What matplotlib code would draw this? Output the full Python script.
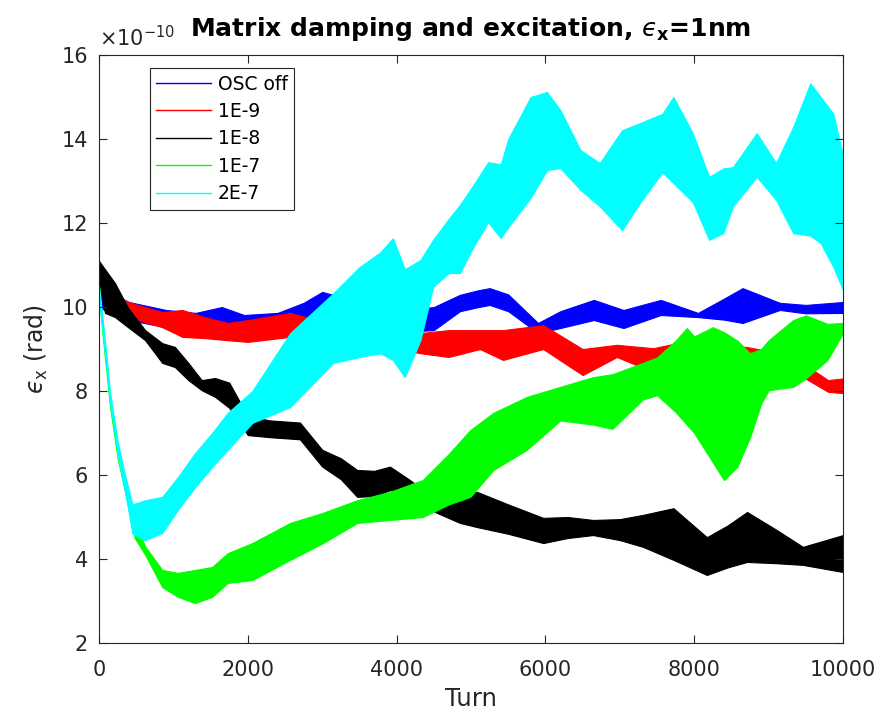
import numpy as np
import matplotlib
matplotlib.use("Agg")
import matplotlib.pyplot as plt

# ---- data (band envelopes, units of 1e-10 rad) ----
labels = ["OSC off", "1E-9", "1E-8", "1E-7", "2E-7"]
colors = ["#0000ff", "#ff0000", "#000000", "#00ff00", "#00ffff"]

t_off = [0, 100, 400, 900, 1300, 1650, 1950, 2400, 2750, 3000, 3250, 3600, 4000, 4500,
         4850, 5100, 5250, 5500, 5900, 6200, 6650, 7050, 7550, 8050, 8400, 8650, 9150, 9500, 10000]
up_off = [10.6, 10.4, 10.12, 9.93, 9.86, 10.0, 9.81, 9.86, 10.1, 10.36, 10.24, 10.1, 9.9, 10.0,
          10.29, 10.4, 10.45, 10.3, 9.62, 9.9, 10.17, 9.93, 10.17, 9.86, 10.2, 10.45, 10.1, 10.05, 10.12]
lo_off = [10.0, 9.9, 9.69, 9.52, 9.55, 9.62, 9.62, 9.69, 9.65, 9.76, 9.8, 9.6, 9.4, 9.45,
          9.9, 10.0, 10.05, 9.9, 9.38, 9.5, 9.69, 9.5, 9.81, 9.76, 9.7, 9.62, 9.93, 9.85, 9.86]

t_e9 = [0, 170, 310, 520, 850, 1120, 1420, 1730, 2000, 2570, 2930, 3300, 3700, 4000, 4320,
        4700, 5120, 5430, 5970, 6500, 6960, 7450, 7850, 8250, 8700, 9300, 9800, 10000]
up_e9 = [10.6, 10.57, 10.17, 10.05, 9.88, 9.93, 9.76, 9.62, 9.69, 9.86, 9.69, 9.6, 9.5, 9.4, 9.38,
         9.45, 9.45, 9.45, 9.57, 9.0, 9.1, 9.02, 9.17, 9.1, 9.05, 8.85, 8.26, 8.3]
lo_e9 = [10.3, 10.2, 9.86, 9.69, 9.52, 9.29, 9.26, 9.21, 9.17, 9.29, 9.4, 9.3, 9.1, 9.0, 8.9,
         8.81, 9.0, 8.74, 9.0, 8.38, 8.81, 8.45, 8.67, 8.7, 8.57, 8.5, 7.98, 7.95]

t_e8 = [0, 80, 215, 390, 620, 850, 1020, 1200, 1380, 1560, 1750, 2000, 2300, 2700, 3000, 3250,
        3470, 3700, 3910, 4180, 4540, 4850, 5080, 5500, 5970, 6300, 6640, 7000, 7310, 7720,
        8170, 8450, 8710, 9100, 9460, 10000]
up_e8 = [11.1, 10.9, 10.57, 9.98, 9.45, 9.14, 9.05, 8.67, 8.26, 8.31, 8.2, 7.4, 7.3, 7.25, 6.6, 6.4,
         6.12, 6.1, 6.2, 5.88, 5.4, 5.57, 5.6, 5.3, 4.98, 5.0, 4.93, 4.95, 5.05, 5.21,
         4.52, 4.8, 5.12, 4.7, 4.29, 4.57]
lo_e8 = [10.6, 9.86, 9.76, 9.52, 9.21, 8.67, 8.57, 8.26, 8.02, 7.86, 7.6, 6.95, 6.9, 6.85, 6.2, 5.9,
         5.48, 5.5, 5.64, 5.48, 5.1, 4.86, 4.76, 4.6, 4.38, 4.5, 4.57, 4.45, 4.29, 3.98,
         3.62, 3.8, 3.93, 3.9, 3.86, 3.69]

t_e7 = [0, 50, 150, 250, 350, 480, 620, 850, 1060, 1290, 1520, 1730, 2060, 2570, 3010, 3470,
        3910, 4350, 4700, 4990, 5300, 5750, 6200, 6640, 6900, 7310, 7500, 7750, 7900, 8000,
        8250, 8400, 8580, 8750, 8900, 9000, 9330, 9500, 9790, 10000]
up_e7 = [10.5, 9.6, 7.85, 6.7, 5.85, 4.9, 4.3, 3.74, 3.67, 3.74, 3.81, 4.14, 4.38, 4.86, 5.1, 5.4,
         5.6, 5.88, 6.5, 7.07, 7.48, 7.86, 8.1, 8.33, 8.4, 8.67, 8.8, 9.2, 9.5, 9.3,
         9.52, 9.4, 9.2, 8.9, 9.0, 9.21, 9.69, 9.8, 9.6, 9.62]
lo_e7 = [10.3, 9.3, 7.6, 6.4, 5.6, 4.5, 4.1, 3.33, 3.1, 2.95, 3.1, 3.43, 3.5, 3.98, 4.38, 4.86,
         4.93, 5.0, 5.3, 5.48, 6.12, 6.6, 7.3, 7.2, 7.1, 7.8, 7.9, 7.5, 7.2, 7.0,
         6.3, 5.88, 6.2, 6.9, 7.7, 8.02, 8.1, 8.3, 8.74, 9.38]

t_2e7 = [0, 50, 150, 250, 350, 450, 620, 850, 1060, 1290, 1520, 1730, 2060, 2570, 3150, 3500,
         3780, 3950, 4110, 4320, 4490, 4700, 4850, 5030, 5230, 5400, 5500, 5800, 6020, 6200,
         6470, 6730, 7030, 7270, 7570, 7720, 7980, 8200, 8390, 8520, 8840, 9100, 9330, 9560,
         9700, 9870, 10000]
up_2e7 = [10.5, 9.7, 7.95, 6.8, 6.0, 5.3, 5.4, 5.48, 5.95, 6.52, 7.0, 7.48, 8.0, 9.38, 10.33, 10.95,
          11.3, 11.64, 10.9, 11.12, 11.6, 12.1, 12.43, 12.9, 13.45, 13.4, 14.0, 15.0, 15.12, 14.69,
          13.74, 13.43, 14.21, 14.38, 14.6, 15.0, 14.14, 13.1, 13.3, 13.33, 14.14, 13.43, 14.29, 15.33,
          15.0, 14.6, 13.6]
lo_2e7 = [10.2, 9.4, 7.7, 6.5, 5.6, 4.6, 4.45, 4.62, 5.17, 5.71, 6.19, 6.6, 7.24, 7.62, 8.67, 8.81,
          8.9, 8.74, 8.33, 9.21, 10.48, 10.81, 10.81, 11.43, 12.02, 11.64, 11.9, 12.6, 13.26, 13.31,
          12.79, 12.4, 11.83, 12.48, 13.21, 12.95, 12.5, 11.6, 11.76, 12.4, 13.1, 12.55, 11.76, 11.7,
          11.52, 10.95, 10.4]

xticks = [0, 2000, 4000, 6000, 8000, 10000]
yticks = [2, 4, 6, 8, 10, 12, 14, 16]

series = [(t_off, up_off, lo_off), (t_e9, up_e9, lo_e9), (t_e8, up_e8, lo_e8),
          (t_e7, up_e7, lo_e7), (t_2e7, up_2e7, lo_2e7)]

fig = plt.figure(figsize=(8.8, 7.12), dpi=100)
ax = fig.add_axes([0.1125, 0.0969, 0.8455, 0.8258])

for (t, up, lo), c, lab in zip(series, colors, labels):
    ax.fill_between(t, lo, up, facecolor=c, edgecolor=c, linewidth=0.8)
    ax.plot([], [], color=c, lw=1.0, label=lab)

ax.set_xlim(0, 10000)
ax.set_ylim(2, 16)
ax.set_xticks(xticks)
ax.set_yticks(yticks)

dark = "#262626"
for sp in ax.spines.values():
    sp.set_color(dark)
    sp.set_linewidth(0.8)
ax.tick_params(direction="in", top=True, right=True, length=6, width=0.8,
               colors=dark, labelsize=15, pad=8)
ax.tick_params(axis="x", pad=12)

ax.text(0.0, 1.008, r"$\times10^{-10}$", transform=ax.transAxes, fontsize=15,
        color=dark, ha="left", va="bottom")

eps = "\u03f5"
ax.set_xlabel("Turn", fontsize=17.5, color=dark, labelpad=5)
ax.set_ylabel(r"$" + eps + r"_{\mathrm{x}}$ (rad)", fontsize=17, color=dark, labelpad=8)
ax.set_title(r"Matrix damping and excitation, $" + eps + r"_{\mathbf{x}}$=1nm",
             fontsize=18, fontweight="bold", color="black", pad=14)

leg = ax.legend(loc="upper left", bbox_to_anchor=(0.068, 0.978), fontsize=13.5,
                fancybox=False, edgecolor=dark, framealpha=1, handlelength=2.9,
                labelspacing=0.45, borderpad=0.35, handletextpad=0.4, borderaxespad=0)
leg.get_frame().set_linewidth(0.8)

fig.savefig("out.png", dpi=100)
